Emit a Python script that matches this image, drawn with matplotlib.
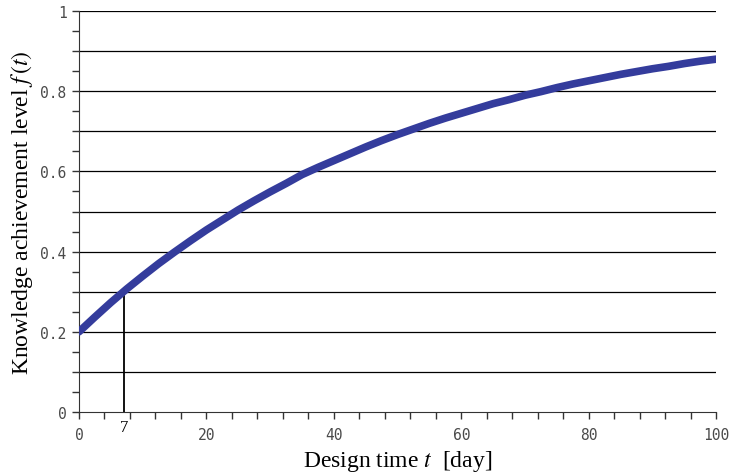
import matplotlib
matplotlib.use('Agg')
import matplotlib.pyplot as plt
import numpy as np

plt.rcParams['mathtext.fontset'] = 'stix'

# values
t_days = [0, 2.5, 5, 7.5, 10, 12.5, 15, 17.5, 20, 22.5, 25, 27.5, 30, 32.5, 35, 37.5,
          40, 42.5, 45, 47.5, 50, 52.5, 55, 57.5, 60, 62.5, 65, 67.5, 70, 72.5, 75,
          77.5, 80, 82.5, 85, 87.5, 90, 92.5, 95, 97.5, 100]
f_level = [0.200, 0.237, 0.273, 0.307, 0.339, 0.370, 0.399, 0.427, 0.454, 0.479, 0.504,
           0.527, 0.549, 0.570, 0.592, 0.610, 0.627, 0.644, 0.661, 0.677, 0.692, 0.706,
           0.720, 0.733, 0.745, 0.757, 0.769, 0.779, 0.790, 0.799, 0.809, 0.818, 0.826,
           0.834, 0.842, 0.849, 0.856, 0.862, 0.869, 0.875, 0.880]
marker_t = 7
marker_f = 0.30
xticks = [0, 20, 40, 60, 80, 100]
xtick_labels = ['0', '20', '40', '60', '80', '100']
yticks = [0, 0.2, 0.4, 0.6, 0.8, 1.0]
ytick_labels = ['0', '0.2', '0.4', '0.6', '0.8', '1']
grid_levels = [0.1, 0.2, 0.3, 0.4, 0.5, 0.6, 0.7, 0.8, 0.9, 1.0]

COLORS = {'curve': '#343c9c', 'tick': '#4a4a4a', 'grid': '#000000'}

fig = plt.figure(figsize=(7.3, 4.77), dpi=100, facecolor='white')
ax = fig.add_axes([0.1082, 0.1342, 0.873, 0.8406])

# horizontal grid lines
for g in grid_levels:
    ax.axhline(g, color=COLORS['grid'], lw=0.9, zorder=1)

# vertical marker at t = 7
ax.plot([marker_t, marker_t], [0, marker_f], color='black', lw=1.3, zorder=2)

ax.plot(t_days, f_level, color=COLORS['curve'], lw=5.5,
        solid_capstyle='round', solid_joinstyle='round', zorder=3)

ax.set_xlim(0, 100)
ax.set_ylim(0, 1)
ax.spines['top'].set_visible(False)
ax.spines['right'].set_visible(False)
ax.spines['left'].set_color('#333333')
ax.spines['bottom'].set_color('#333333')

ax.set_xticks(xticks)
ax.set_xticklabels(xtick_labels, family='DejaVu Sans Mono', fontsize=10.5, color=COLORS['tick'])
ax.set_xticks(np.arange(0, 101, 4), minor=True)
ax.set_yticks(yticks)
ax.set_yticklabels(ytick_labels, family='DejaVu Sans Mono', fontsize=10.5, color=COLORS['tick'])
ax.set_yticks(np.arange(0, 1.001, 0.05), minor=True)
ax.tick_params(axis='both', which='both', direction='out', length=5, width=1,
               color='#333333')
ax.tick_params(axis='x', pad=6)
ax.tick_params(axis='y', pad=4)

# label for the marker day
ax.text(marker_t, -0.018, '7', ha='center', va='top', fontsize=12,
        family='Liberation Serif', color='black')

ax.set_xlabel(r'Design time $t$  [day]', fontsize=17, family='Liberation Serif', labelpad=4)
ax.set_ylabel(r'Knowledge achievement level $f\,(t)$', fontsize=17,
              family='Liberation Serif', labelpad=4)

fig.savefig('out.png', dpi=100, facecolor='white')
